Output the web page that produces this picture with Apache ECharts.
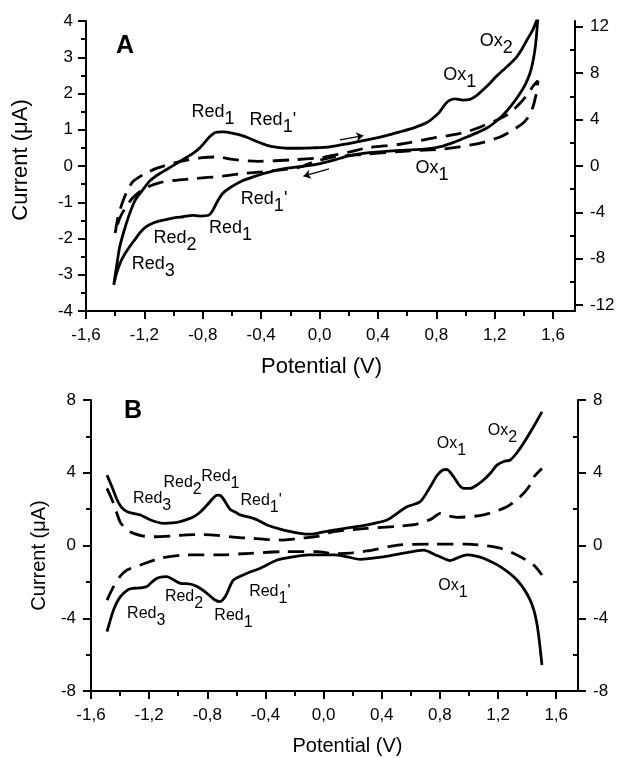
<!DOCTYPE html>
<html>
<head>
<meta charset="utf-8">
<script src="https://cdn.jsdelivr.net/npm/echarts@6/dist/echarts.min.js"></script>
<style>
  html, body { margin: 0; padding: 0; background: #fff; }
  #chart { width: 622px; height: 758px; }
</style>
</head>
<body>
<div id="chart"></div>
<script>
// tick values
const xTicks = [-1.6, -1.2, -0.8, -0.4, 0, 0.4, 0.8, 1.2, 1.6]
const xMinor = [-1.4, -1.0, -0.6, -0.2, 0.2, 0.6, 1.0, 1.4]
const aRightTicks = [-12, -8, -4, 0, 4, 8, 12]
const aRightMinor = [-10, -6, -2, 2, 6, 10]
const bRightTicks = [-8, -4, 0, 4, 8]
const bRightMinor = [-6, -2, 2, 6]

// panel A - cyclic voltammogram, [potential V, current uA]
const aSolid = [
  [-1.41, -3.28], [-1.39, -2.75], [-1.37, -2.25], [-1.34, -1.8], [-1.3, -1.3], [-1.26, -0.92],
  [-1.21, -0.65], [-1.16, -0.4], [-1.1, -0.22], [-1.045, -0.09], [-0.98, 0.07], [-0.935, 0.18],
  [-0.87, 0.34], [-0.82, 0.5], [-0.78, 0.68], [-0.75, 0.82], [-0.71, 0.93], [-0.66, 0.94],
  [-0.593, 0.9], [-0.53, 0.84], [-0.477, 0.76], [-0.42, 0.66], [-0.36, 0.57], [-0.3, 0.52],
  [-0.223, 0.49], [-0.134, 0.49], [-0.05, 0.5], [0.07, 0.53], [0.2, 0.62], [0.325, 0.72],
  [0.45, 0.83], [0.55, 0.94], [0.65, 1.06], [0.736, 1.2], [0.78, 1.33], [0.82, 1.48],
  [0.86, 1.7], [0.89, 1.81], [0.93, 1.85], [0.98, 1.82], [1.03, 1.84], [1.078, 1.95],
  [1.12, 2.1], [1.167, 2.28], [1.21, 2.47], [1.256, 2.64], [1.3, 2.8], [1.352, 3.02],
  [1.39, 3.25], [1.42, 3.47], [1.46, 3.75], [1.496, 4.1],
  [1.485, 3.55], [1.475, 3.19], [1.46, 2.85], [1.441, 2.55], [1.41, 2.25], [1.373, 2.0],
  [1.32, 1.7], [1.256, 1.4], [1.2, 1.2], [1.147, 1.05], [1.08, 0.92], [1.01, 0.8],
  [0.93, 0.67], [0.845, 0.55], [0.736, 0.47], [0.55, 0.43], [0.325, 0.36], [0.2, 0.28],
  [0.105, 0.17], [-0.016, 0.05], [-0.134, -0.02], [-0.25, -0.08], [-0.36, -0.18], [-0.44, -0.28],
  [-0.525, -0.4], [-0.614, -0.6], [-0.664, -0.76], [-0.703, -1.0], [-0.735, -1.25], [-0.76, -1.36],
  [-0.82, -1.38], [-0.87, -1.36], [-0.935, -1.4], [-0.98, -1.42], [-1.045, -1.47], [-1.1, -1.52],
  [-1.14, -1.57], [-1.19, -1.68], [-1.23, -1.84], [-1.265, -2.03], [-1.3, -2.22], [-1.33, -2.4],
  [-1.36, -2.62], [-1.39, -2.95], [-1.41, -3.28]
]
const aDashed = [
  [-1.4, -1.85], [-1.38, -1.4], [-1.35, -1.0], [-1.32, -0.71], [-1.278, -0.43], [-1.2, -0.22],
  [-1.114, -0.06], [-1.0, 0.08], [-0.9, 0.17], [-0.8, 0.23], [-0.703, 0.25], [-0.593, 0.18],
  [-0.42, 0.13], [-0.19, 0.17], [0.016, 0.23], [0.1, 0.3], [0.2, 0.38], [0.325, 0.5],
  [0.55, 0.6], [0.777, 0.77], [0.9, 0.85], [1.03, 0.97], [1.215, 1.27], [1.3, 1.45],
  [1.373, 1.73], [1.43, 2.0], [1.462, 2.2], [1.496, 2.35],
  [1.49, 2.1], [1.462, 1.63], [1.43, 1.35], [1.393, 1.18], [1.32, 0.98], [1.236, 0.8],
  [1.1, 0.63], [0.96, 0.53], [0.82, 0.46], [0.55, 0.4], [0.3, 0.32], [0.1, 0.25],
  [-0.05, 0.1], [-0.134, -0.03], [-0.25, -0.1], [-0.395, -0.16], [-0.55, -0.22], [-0.662, -0.28],
  [-0.867, -0.35], [-1.0, -0.4], [-1.093, -0.46], [-1.2, -0.62], [-1.278, -0.87], [-1.33, -1.15],
  [-1.37, -1.45], [-1.4, -1.85]
]

// panel B - forward / backward components
const bSolidUp = [
  [-1.49, 3.87], [-1.456, 3.23], [-1.42, 2.5], [-1.39, 2.1], [-1.35, 1.86], [-1.3, 1.75],
  [-1.26, 1.68], [-1.19, 1.4], [-1.1, 1.22], [-1.04, 1.24], [-0.986, 1.31], [-0.894, 1.58],
  [-0.84, 1.9], [-0.802, 2.22], [-0.76, 2.6], [-0.733, 2.77], [-0.71, 2.75], [-0.688, 2.55],
  [-0.665, 2.25], [-0.642, 1.98], [-0.6, 1.8], [-0.573, 1.68], [-0.482, 1.49], [-0.43, 1.3],
  [-0.39, 1.13], [-0.275, 0.85], [-0.16, 0.67], [-0.1, 0.62], [-0.046, 0.67], [0.069, 0.85],
  [0.18, 0.98], [0.298, 1.13], [0.436, 1.4], [0.52, 1.85], [0.573, 2.13], [0.665, 2.41],
  [0.734, 3.23], [0.78, 3.85], [0.82, 4.15], [0.848, 4.18], [0.894, 3.78], [0.93, 3.35],
  [0.963, 3.14], [1.009, 3.14], [1.05, 3.3], [1.1, 3.6], [1.15, 4.0], [1.192, 4.42],
  [1.24, 4.62], [1.284, 4.7], [1.33, 5.1], [1.375, 5.62], [1.444, 6.53], [1.502, 7.35]
]
const bSolidDown = [
  [-1.49, -4.74], [-1.445, -3.54], [-1.41, -2.95], [-1.376, -2.63], [-1.34, -2.4], [-1.307, -2.35],
  [-1.26, -2.33], [-1.215, -2.26], [-1.18, -2.0], [-1.146, -1.8], [-1.11, -1.72], [-1.077, -1.71],
  [-1.03, -1.9], [-0.986, -2.08], [-0.94, -2.1], [-0.894, -2.17], [-0.85, -2.35], [-0.802, -2.63],
  [-0.75, -2.98], [-0.711, -3.09], [-0.68, -2.85], [-0.665, -2.63], [-0.62, -1.9], [-0.527, -1.53],
  [-0.436, -1.25], [-0.32, -0.8], [-0.207, -0.62], [-0.1, -0.52], [0.069, -0.52], [0.16, -0.62],
  [0.252, -0.76], [0.413, -0.62], [0.55, -0.42], [0.688, -0.25], [0.78, -0.55], [0.871, -0.83],
  [0.93, -0.65], [0.986, -0.52], [1.05, -0.58], [1.1, -0.7], [1.215, -1.16], [1.33, -1.9],
  [1.421, -3.0], [1.467, -4.27], [1.502, -6.57]
]
const bDashedUp = [
  [-1.49, 3.14], [-1.445, 2.32], [-1.4, 1.3], [-1.352, 0.85], [-1.307, 0.67], [-1.24, 0.52],
  [-1.17, 0.48], [-1.05, 0.52], [-0.94, 0.58], [-0.833, 0.6], [-0.733, 0.56], [-0.6, 0.45],
  [-0.504, 0.4], [-0.39, 0.33], [-0.275, 0.3], [-0.16, 0.4], [-0.046, 0.5], [0.069, 0.76],
  [0.298, 0.94], [0.5, 1.05], [0.642, 1.18], [0.74, 1.45], [0.802, 1.77], [0.86, 1.62],
  [0.917, 1.55], [1.1, 1.68], [1.261, 2.13], [1.352, 2.68], [1.41, 3.2], [1.444, 3.75],
  [1.502, 4.24]
]
const bDashedDown = [
  [-1.49, -3.0], [-1.445, -2.26], [-1.4, -1.7], [-1.352, -1.35], [-1.26, -1.07], [-1.123, -0.7],
  [-0.94, -0.52], [-0.733, -0.52], [-0.504, -0.43], [-0.275, -0.34], [-0.046, -0.34], [0.069, -0.45],
  [0.2, -0.4], [0.298, -0.3], [0.527, 0.03], [0.756, 0.08], [0.986, 0.08], [1.1, 0.0],
  [1.215, -0.15], [1.33, -0.52], [1.444, -1.07], [1.502, -1.62]
]

// peak labels: [V, I, text, subscript, suffix]
const aPeaks = [
  [-0.73, 1.38, 'Red', '1', ''], [-0.32, 1.17, 'Red', '1', "'"],
  [-0.38, -1.0, 'Red', '1', "'"], [-0.61, -1.8, 'Red', '1', ''],
  [-0.99, -2.07, 'Red', '2', ''], [-1.14, -2.8, 'Red', '3', ''],
  [0.96, 2.42, 'Ox', '1', ''], [1.21, 3.35, 'Ox', '2', ''], [0.77, -0.15, 'Ox', '1', '']
]
const bPeaks = [
  [-1.18, 2.4, 'Red', '3', ''], [-0.97, 3.25, 'Red', '2', ''], [-0.71, 3.6, 'Red', '1', ''],
  [-0.43, 2.3, 'Red', '1', "'"], [-1.22, -3.95, 'Red', '3', ''], [-0.96, -3.0, 'Red', '2', ''],
  [-0.62, -4.05, 'Red', '1', ''], [-0.37, -2.7, 'Red', '1', "'"],
  [0.88, 5.4, 'Ox', '1', ''], [1.23, 6.1, 'Ox', '2', ''], [0.89, -2.4, 'Ox', '1', '']
]
// sweep direction arrows in A
const aArrows = [
  [[0.14, 0.72], [0.30, 0.84]],
  [[0.065, -0.08], [-0.11, -0.28]]
]

const black = '#000'
const fmtV = v => v.toFixed(1).replace('.', ',')

function xMain (grid, pad, size) {
  return {
    type: 'value', gridIndex: grid, position: 'bottom', min: -1.6, max: 1.75,
    name: 'Potential (V)', nameLocation: 'middle', nameGap: 45,
    nameTextStyle: { fontSize: size, color: black, padding: pad },
    axisLine: { onZero: false, lineStyle: { color: black, width: 2 } },
    axisTick: { customValues: xTicks, length: 8, lineStyle: { color: black, width: 2 } },
    axisLabel: { customValues: xTicks, formatter: fmtV, fontSize: 17, color: black, margin: 16 },
    splitLine: { show: false }
  }
}
// ticks-only helper axis for the minor ticks
function minorAxis (grid, min, max, vals, inside, pos) {
  return {
    type: 'value', gridIndex: grid, position: pos, min: min, max: max,
    axisLine: { show: false, onZero: false },
    axisTick: { customValues: vals, inside: inside, length: 5, lineStyle: { color: black, width: 2 } },
    axisLabel: { show: false },
    splitLine: { show: false }
  }
}
function yLeft (grid, min, max, step, gap, margin, pad, size) {
  return {
    type: 'value', gridIndex: grid, position: 'left', min: min, max: max, interval: step,
    name: 'Current (\u03bcA)', nameLocation: 'middle', nameGap: gap,
    nameTextStyle: { fontSize: size, color: black, padding: pad },
    axisLine: { onZero: false, lineStyle: { color: black, width: 2 } },
    axisTick: { length: 8, lineStyle: { color: black, width: 2 } },
    minorTick: { show: true, splitNumber: 2, length: 5, lineStyle: { color: black, width: 2 } },
    axisLabel: { fontSize: 17, color: black, margin: margin },
    splitLine: { show: false }
  }
}
function yRight (grid, min, max, vals) {
  return {
    type: 'value', gridIndex: grid, position: 'right', min: min, max: max,
    axisLine: { onZero: false, lineStyle: { color: black, width: 2 } },
    axisTick: { customValues: vals, length: 8, lineStyle: { color: black, width: 2 } },
    axisLabel: { customValues: vals, fontSize: 17, color: black, margin: 15 },
    splitLine: { show: false }
  }
}
function curve (data, dashed, xi, yi) {
  return {
    type: 'line', data: data, xAxisIndex: xi, yAxisIndex: yi,
    showSymbol: false, smooth: 0.25, silent: true,
    lineStyle: { color: black, width: 2.8, type: dashed ? [16, 9] : 'solid' }
  }
}
function peakLabels (list, xi, yi, size) {
  let txt = { fontSize: size, color: black, textBorderWidth: 0, opacity: 1 }
  return {
    type: 'scatter', xAxisIndex: xi, yAxisIndex: yi, symbolSize: 0, silent: true,
    itemStyle: { color: black, opacity: 1 },
    data: list.map(p => ({
      value: [p[0], p[1]],
      name: '{n|' + p[2] + '}{s|' + p[3] + '}' + (p[4] ? '{n|' + p[4] + '}' : '')
    })),
    label: {
      show: true, position: 'inside', formatter: '{b}', color: black, opacity: 1, textBorderWidth: 0,
      rich: {
        n: Object.assign({ lineHeight: size + 2, verticalAlign: 'top' }, txt),
        s: Object.assign({ lineHeight: size + 7, verticalAlign: 'bottom' }, txt)
      }
    }
  }
}

let chart = echarts.init(document.getElementById('chart'))
let option = {
  animation: false,
  backgroundColor: '#fff',
  textStyle: { fontFamily: 'Liberation Sans, Arial, sans-serif' },
  title: [
    { text: 'A', left: 111, top: 29, textStyle: { fontSize: 25, fontWeight: 'bold', color: black } },
    { text: 'B', left: 119, top: 394, textStyle: { fontSize: 25, fontWeight: 'bold', color: black } }
  ],
  grid: [
    { left: 86, right: 47, top: 21, height: 290 },
    { left: 91, right: 44, top: 400, height: 291 }
  ],
  xAxis: [
    xMain(0, [0, 18, 0, 0], 22),
    minorAxis(0, -1.6, 1.75, xMinor, false, 'bottom'),
    xMain(1, [0, 0, 0, 26], 20),
    minorAxis(1, -1.6, 1.75, xMinor, false, 'bottom')
  ],
  yAxis: [
    yLeft(0, -4, 4, 1, 54, 13, [0, 0, 0, 12], 22),
    yRight(0, -12.5, 12.5, aRightTicks),
    minorAxis(0, -12.5, 12.5, aRightMinor, true, 'right'),
    yLeft(1, -8, 8, 4, 34, 15, [0, 20, 0, 0], 20),
    yRight(1, -8, 8, bRightTicks),
    minorAxis(1, -8, 8, bRightMinor, true, 'right')
  ],
  series: [
    curve(aSolid, false, 0, 0),
    curve(aDashed, true, 0, 0),
    curve(bSolidUp, false, 2, 3),
    curve(bSolidDown, false, 2, 3),
    curve(bDashedUp, true, 2, 3),
    curve(bDashedDown, true, 2, 3),
    peakLabels(aPeaks, 0, 0, 18),
    peakLabels(bPeaks, 2, 3, 16),
    {
      type: 'lines', coordinateSystem: 'cartesian2d', xAxisIndex: 0, yAxisIndex: 0, silent: true,
      symbol: ['none', 'arrow'], symbolSize: 7,
      lineStyle: { color: black, width: 1.2, opacity: 1 },
      data: aArrows.map(a => ({ coords: a }))
    }
  ]
}
chart.setOption(option)
window.addEventListener('resize', function () {
  chart.resize()
})
</script>
</body>
</html>
